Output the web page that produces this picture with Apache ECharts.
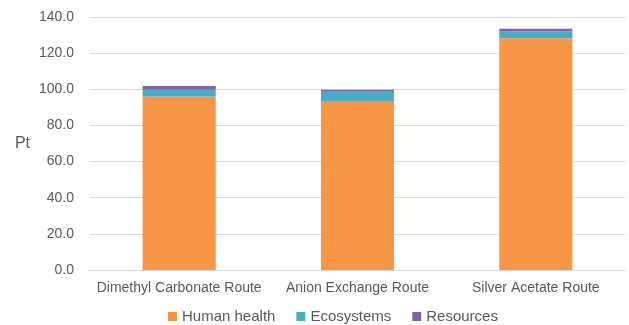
<!DOCTYPE html>
<html>
<head>
<meta charset="utf-8">
<script src="https://cdn.jsdelivr.net/npm/echarts@6/dist/echarts.min.js"></script>
<style>
  html, body { margin: 0; padding: 0; background: #fff; }
  #chart { width: 629px; height: 325px; }
</style>
</head>
<body>
<div id="chart"></div>
<script>
var routes = ['Dimethyl Carbonate Route', 'Anion Exchange Route', 'Silver Acetate Route'];
var humanHealth = [96.0, 93.5, 128.2];
var ecosystems = [3.7, 5.2, 3.9];
var resources = [2.1, 1.0, 1.4];

var myChart = echarts.init(document.getElementById('chart'));

var textColor = '#595959';
var font = 'Liberation Sans, Arial, sans-serif';

option = {
  animation: false,
  textStyle: { fontFamily: font },
  grid: {
    left: 90,
    right: 4,
    top: 17,
    bottom: 55
  },
  legend: {
    top: 304,
    left: 163,
    itemWidth: 9,
    itemHeight: 9,
    itemGap: 21,
    icon: 'rect',
    textStyle: { color: textColor, fontSize: 15, fontFamily: font },
    data: ['Human health', 'Ecosystems', 'Resources']
  },
  xAxis: {
    type: 'category',
    data: routes,
    axisLine: { lineStyle: { color: '#D9D9D9' } },
    axisTick: { show: false },
    axisLabel: { color: textColor, fontSize: 14, margin: 11, interval: 0, fontFamily: font }
  },
  yAxis: {
    type: 'value',
    min: 0,
    max: 140,
    interval: 20,
    name: 'Pt',
    nameLocation: 'middle',
    nameRotate: 0,
    nameGap: 60,
    nameTextStyle: { color: textColor, fontSize: 16, fontFamily: font },
    axisLabel: {
      color: textColor,
      fontSize: 14,
      margin: 16,
      fontFamily: font,
      formatter: function (v) { return v.toFixed(1); }
    },
    splitLine: { lineStyle: { color: '#D9D9D9' } }
  },
  series: [
    {
      name: 'Human health',
      type: 'bar',
      stack: 'total',
      barWidth: '41%',
      itemStyle: { color: '#F79646' },
      data: humanHealth
    },
    {
      name: 'Ecosystems',
      type: 'bar',
      stack: 'total',
      itemStyle: { color: '#4BACC6' },
      data: ecosystems
    },
    {
      name: 'Resources',
      type: 'bar',
      stack: 'total',
      itemStyle: { color: '#8064A2' },
      data: resources
    }
  ]
};

myChart.setOption(option);
</script>
</body>
</html>
